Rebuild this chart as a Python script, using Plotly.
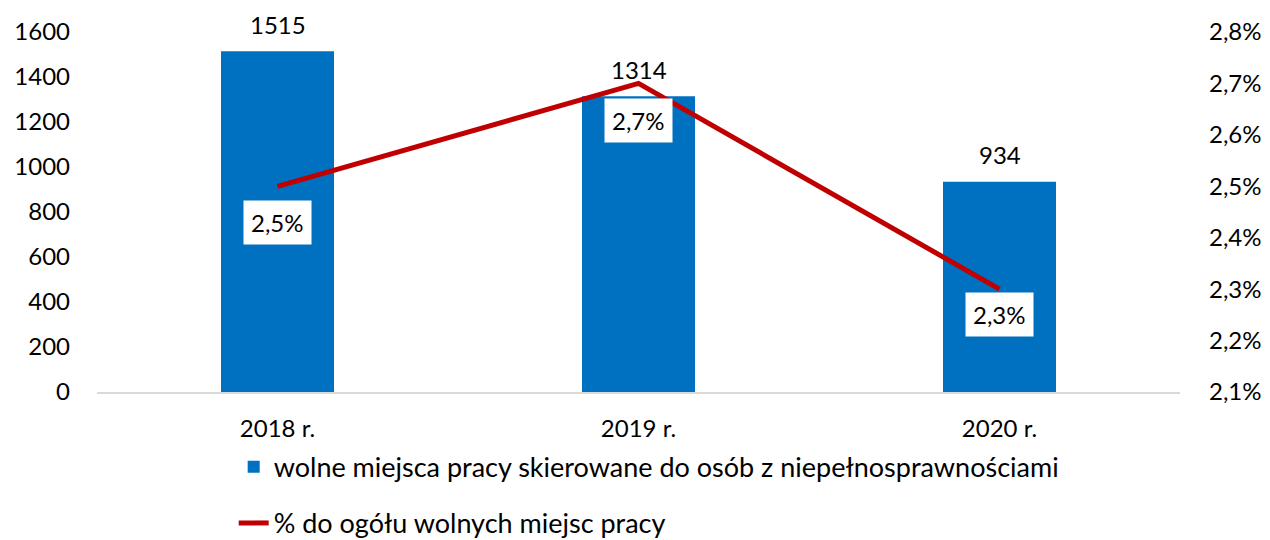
import plotly.graph_objects as go

categories = ["2018 r.", "2019 r.", "2020 r."]
vacancies = [1515, 1314, 934]
vacancy_labels = ["1515", "1314", "934"]
share_pct = [2.5, 2.7, 2.3]
share_labels = ["2,5%", "2,7%", "2,3%"]
left_ticks = [0, 200, 400, 600, 800, 1000, 1200, 1400, 1600]
right_ticks = [2.1, 2.2, 2.3, 2.4, 2.5, 2.6, 2.7, 2.8]
right_tick_text = ["2,1%", "2,2%", "2,3%", "2,4%", "2,5%", "2,6%", "2,7%", "2,8%"]
label_shift = [-36, -37, -25]

FONT = "Lato"
FS = 24
fig = go.Figure()
fig.add_trace(go.Bar(
    x=categories, y=vacancies, name="wolne miejsca pracy skierowane do osób z niepełnosprawnościami",
    marker=dict(color="#0070C0", line=dict(width=0)), width=0.313,
    legendgroup="a",
))
fig.add_trace(go.Scatter(
    x=categories, y=share_pct, yaxis="y2", mode="lines",
    name="% do ogółu wolnych miejsc pracy",
    line=dict(color="#C00000", width=5), legendgroup="b",
))
for c, v, t in zip(categories, vacancies, vacancy_labels):
    fig.add_annotation(x=c, y=v, text=t, showarrow=False, yshift=27, yanchor="middle",
                       font=dict(size=FS, color="black", family=FONT))
for c, v, t, s in zip(categories, share_pct, share_labels, label_shift):
    fig.add_annotation(x=c, y=v, yref="y2", text=t, showarrow=False, yshift=s,
                       bgcolor="white", borderpad=7,
                       font=dict(size=FS, color="black", family=FONT))

fig.update_layout(
    width=1270, height=540,
    margin=dict(l=97, r=90, t=32, b=148, autoexpand=False),
    plot_bgcolor="white", paper_bgcolor="white",
    font=dict(family=FONT, size=FS, color="black"),
    bargap=0.687,
    xaxis=dict(showgrid=False, showline=True, linecolor="#D9D9D9", linewidth=2,
               ticks="", tickfont=dict(size=FS), ticklabelstandoff=14),
    yaxis=dict(range=[0, 1600], tickvals=left_ticks, showgrid=False, zeroline=False,
               showline=False, ticks="", tickfont=dict(size=FS), ticklabelstandoff=26),
    yaxis2=dict(range=[2.1, 2.8], overlaying="y", side="right", tickvals=right_ticks,
                ticktext=right_tick_text, showgrid=False, zeroline=False, showline=False,
                ticks="", tickfont=dict(size=FS), ticklabelstandoff=28),
    legend=dict(orientation="v", x=0.184, xref="container", xanchor="left",
                y=0.18, yref="container", yanchor="top",
                font=dict(size=27), tracegroupgap=18, itemwidth=30),
    showlegend=True,
)
fig.write_html("out.html")
